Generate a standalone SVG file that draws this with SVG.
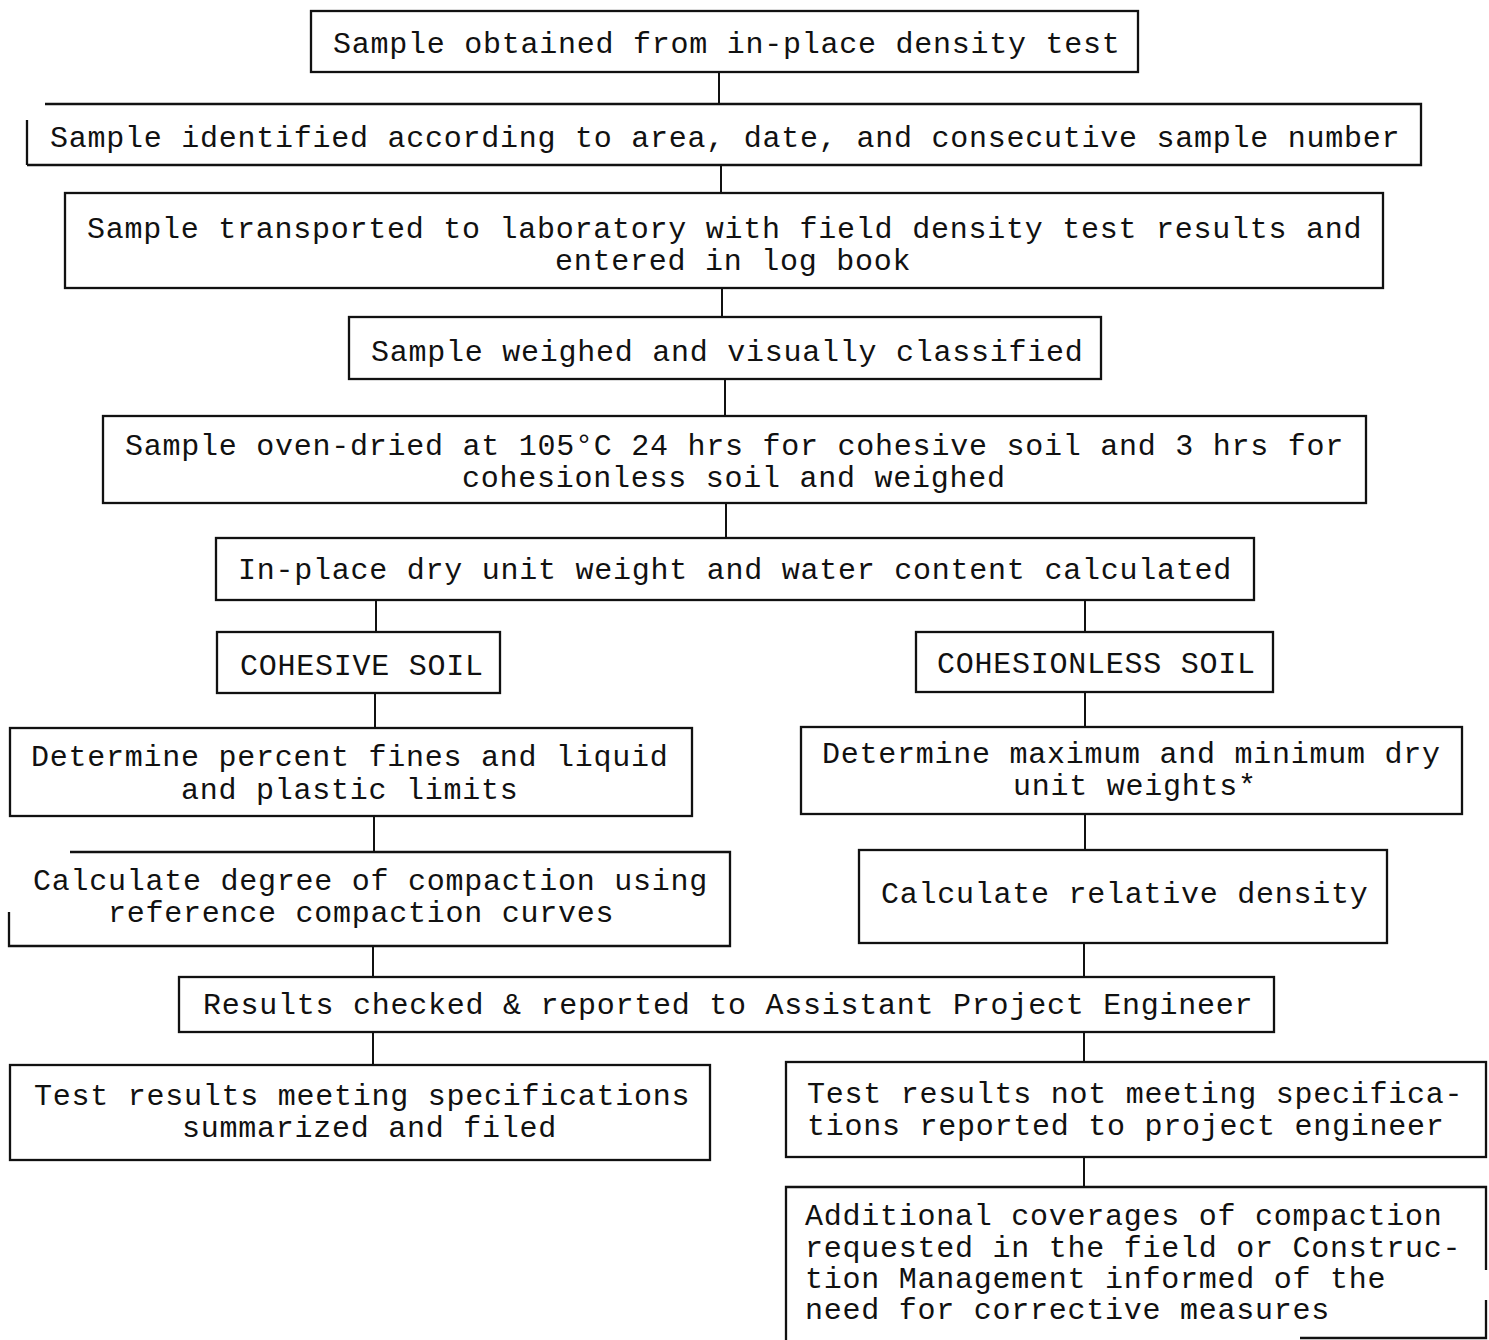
<svg xmlns="http://www.w3.org/2000/svg" width="1489" height="1340" viewBox="0 0 1489 1340">
  <style>
    .box { fill: none; stroke: #111; stroke-width: 2.3; }
    .conn line { stroke: #111; stroke-width: 2; }
    text { font-family: "Liberation Mono", "DejaVu Sans Mono", monospace; font-size: 30px; letter-spacing: 0.75px; fill: #111; }
  </style>
  <rect width="1489" height="1340" fill="#fff"/>

  <!-- vertical connectors between steps -->
  <g id="connectors" class="conn">
    <line x1="719" y1="72" x2="719" y2="104"/>
    <line x1="721" y1="165" x2="721" y2="193"/>
    <line x1="722" y1="288" x2="722" y2="317"/>
    <line x1="725" y1="379" x2="725" y2="416"/>
    <line x1="726" y1="503" x2="726" y2="538"/>
    <line x1="376" y1="600" x2="376" y2="632"/>
    <line x1="1085" y1="600" x2="1085" y2="632"/>
    <line x1="375" y1="693" x2="375" y2="728"/>
    <line x1="1085" y1="692" x2="1085" y2="727"/>
    <line x1="374" y1="816" x2="374" y2="852"/>
    <line x1="1085" y1="814" x2="1085" y2="850"/>
    <line x1="373" y1="946" x2="373" y2="977"/>
    <line x1="1084" y1="943" x2="1084" y2="977"/>
    <line x1="373" y1="1032" x2="373" y2="1065"/>
    <line x1="1084" y1="1032" x2="1084" y2="1062"/>
    <line x1="1084" y1="1157" x2="1084" y2="1187"/>
  </g>

  <g id="sample-obtained">
    <rect class="box" x="311" y="11" width="827" height="61"/>
    <text x="333" y="53">Sample obtained from in-place density test</text>
  </g>

  <g id="sample-identified">
    <path class="box" d="M45 104 H1421 V165 H27 M27 165 V120"/>
    <text x="50" y="147">Sample identified according to area, date, and consecutive sample number</text>
  </g>

  <g id="sample-transported">
    <rect class="box" x="65" y="193" width="1318" height="95"/>
    <text x="87" y="238">Sample transported to laboratory with field density test results and</text>
    <text x="555" y="270">entered in log book</text>
  </g>

  <g id="sample-weighed">
    <rect class="box" x="349" y="317" width="752" height="62"/>
    <text x="371" y="361">Sample weighed and visually classified</text>
  </g>

  <g id="oven-dried">
    <rect class="box" x="103" y="416" width="1263" height="87"/>
    <text x="125" y="455">Sample oven-dried at 105°C 24 hrs for cohesive soil and 3 hrs for</text>
    <text x="462" y="487">cohesionless soil and weighed</text>
  </g>

  <g id="dry-unit-weight">
    <rect class="box" x="216" y="538" width="1038" height="62"/>
    <text x="238" y="579">In-place dry unit weight and water content calculated</text>
  </g>

  <g id="cohesive-soil">
    <rect class="box" x="217" y="632" width="283" height="61"/>
    <text x="240" y="675">COHESIVE SOIL</text>
  </g>

  <g id="cohesionless-soil">
    <rect class="box" x="916" y="632" width="357" height="60"/>
    <text x="937" y="673">COHESIONLESS SOIL</text>
  </g>

  <g id="percent-fines">
    <rect class="box" x="10" y="728" width="682" height="88"/>
    <text x="31" y="766">Determine percent fines and liquid</text>
    <text x="181" y="799">and plastic limits</text>
  </g>

  <g id="max-min-weights">
    <rect class="box" x="801" y="727" width="661" height="87"/>
    <text x="822" y="763">Determine maximum and minimum dry</text>
    <text x="1013" y="795">unit weights*</text>
  </g>

  <g id="degree-of-compaction">
    <path class="box" d="M70 852 H730 V946 H9 V912"/>
    <text x="33" y="890">Calculate degree of compaction using</text>
    <text x="108" y="922">reference compaction curves</text>
  </g>

  <g id="relative-density">
    <rect class="box" x="859" y="850" width="528" height="93"/>
    <text x="881" y="903">Calculate relative density</text>
  </g>

  <g id="results-checked">
    <rect class="box" x="179" y="977" width="1095" height="55"/>
    <text x="203" y="1014">Results checked &amp; reported to Assistant Project Engineer</text>
  </g>

  <g id="meeting-specs">
    <rect class="box" x="10" y="1065" width="700" height="95"/>
    <text x="34" y="1105">Test results meeting specifications</text>
    <text x="182" y="1137">summarized and filed</text>
  </g>

  <g id="not-meeting-specs">
    <rect class="box" x="786" y="1062" width="700" height="95"/>
    <text x="807" y="1103">Test results not meeting specifica-</text>
    <text x="807" y="1135">tions reported to project engineer</text>
  </g>

  <g id="corrective-measures">
    <path class="box" d="M786 1342 V1187 H1486 V1270 M1486 1300 V1338 H1300"/>
    <text x="805" y="1225">Additional coverages of compaction</text>
    <text x="805" y="1257">requested in the field or Construc-</text>
    <text x="805" y="1288">tion Management informed of the</text>
    <text x="805" y="1319">need for corrective measures</text>
  </g>
</svg>
